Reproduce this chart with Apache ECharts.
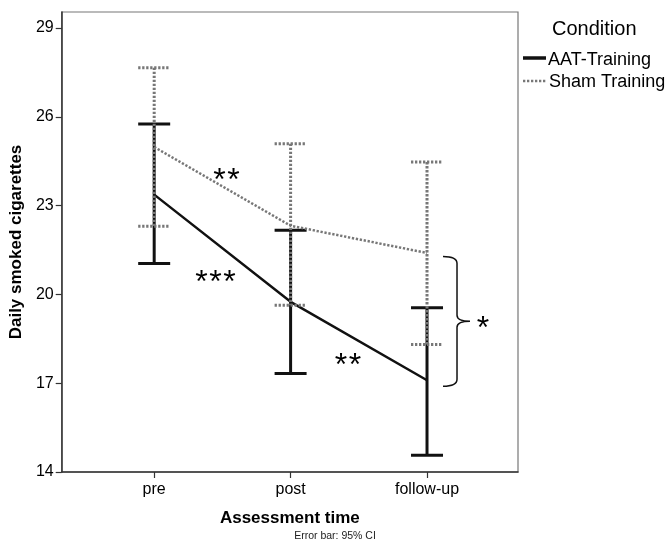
<!DOCTYPE html>
<html>
<head>
<meta charset="utf-8">
<script src="https://cdn.jsdelivr.net/npm/echarts@6/dist/echarts.min.js"></script>
<style>
html, body { margin: 0; padding: 0; background: #fff; }
#chart { width: 670px; height: 545px; }
</style>
</head>
<body>
<div id="chart"></div>
<script>
// assessment times
var times = ['pre', 'post', 'follow-up'];
var yTicks = [14, 17, 20, 23, 26, 29];

// means and 95% CI per condition
var aatMean = [23.37, 19.75, 17.10];
var aatLow = [21.04, 17.33, 14.57];
var aatHigh = [25.76, 22.17, 19.55];

var shamMean = [24.98, 22.32, 21.40];
var shamLow = [22.30, 19.63, 18.31];
var shamHigh = [27.66, 25.09, 24.47];

// significance marks: [x, y, number of stars]
var stars = [
    [0.53, 24.08, 2],
    [0.45, 20.66, 3],
    [1.42, 17.84, 2]
];
// brace between the follow-up means
var brace = [[2, 21.28, 16.90]];

var FONT = '"Liberation Sans", Arial, sans-serif';
var AAT_COLOR = '#111';
var SHAM_COLOR = '#777';

function pts(arr) {
    return arr.map(function (v, i) { return [i, v]; });
}
function bars(lo, hi) {
    return lo.map(function (v, i) { return [i, v, hi[i]]; });
}

function errorBar(color, dash) {
    return function (params, api) {
        var x = api.value(0);
        var lo = api.coord([x, api.value(1)]);
        var hi = api.coord([x, api.value(2)]);
        var hw = 16;
        var st = { stroke: color, lineWidth: 3, lineDash: dash };
        return {
            type: 'group',
            children: [
                { type: 'line', shape: { x1: hi[0], y1: hi[1], x2: lo[0], y2: lo[1] }, style: st },
                { type: 'line', shape: { x1: hi[0] - hw, y1: hi[1], x2: hi[0] + hw, y2: hi[1] }, style: st },
                { type: 'line', shape: { x1: lo[0] - hw, y1: lo[1], x2: lo[0] + hw, y2: lo[1] }, style: st }
            ]
        };
    };
}

var chart = echarts.init(document.getElementById('chart'));

var option = {
    animation: false,
    backgroundColor: '#fff',
    grid: {
        left: 59, right: 152, top: 12, bottom: 73,
        show: true, borderColor: '#777', borderWidth: 1.2
    },
    xAxis: {
        type: 'value',
        min: -0.678,
        max: 2.667,
        name: 'Assessment time',
        nameLocation: 'middle',
        nameGap: 38,
        nameTextStyle: { fontFamily: FONT, fontSize: 17, fontWeight: 'bold', color: '#000' },
        axisLine: { onZero: false, lineStyle: { color: '#333', width: 1.5 } },
        axisTick: { customValues: [0, 1, 2], length: 6, lineStyle: { color: '#333', width: 1.2 } },
        axisLabel: {
            customValues: [0, 1, 2],
            margin: 10,
            fontFamily: FONT, fontSize: 16, color: '#000',
            formatter: function (v) { return times[Math.round(v)]; }
        },
        splitLine: { show: false }
    },
    yAxis: {
        type: 'value',
        min: 14,
        max: 29.54,
        name: 'Daily smoked cigarettes',
        nameLocation: 'middle',
        nameGap: 34,
        nameTextStyle: { fontFamily: FONT, fontSize: 17, fontWeight: 'bold', color: '#000' },
        axisLine: { show: true, onZero: false, lineStyle: { color: '#333', width: 1.5 } },
        axisTick: { show: true, customValues: yTicks, length: 6, lineStyle: { color: '#333', width: 1.2 } },
        axisLabel: {
            customValues: yTicks,
            margin: 8,
            fontFamily: FONT, fontSize: 16, color: '#000'
        },
        splitLine: { show: false }
    },
    series: [
        {
            name: 'AAT-Training CI',
            type: 'custom',
            renderItem: errorBar(AAT_COLOR, null),
            data: bars(aatLow, aatHigh),
            z: 2
        },
        {
            name: 'AAT-Training',
            type: 'line',
            data: pts(aatMean),
            symbol: 'none',
            lineStyle: { color: AAT_COLOR, width: 2.5 },
            z: 3
        },
        {
            name: 'Sham Training CI',
            type: 'custom',
            renderItem: errorBar(SHAM_COLOR, [2.3, 1.7]),
            data: bars(shamLow, shamHigh),
            z: 4
        },
        {
            name: 'Sham Training',
            type: 'line',
            data: pts(shamMean),
            symbol: 'none',
            lineStyle: { color: SHAM_COLOR, width: 2.5, type: [2.3, 1.7] },
            z: 5
        },
        {
            name: 'brace',
            type: 'custom',
            renderItem: function (params, api) {
                var top = api.coord([api.value(0), api.value(1)]);
                var bot = api.coord([api.value(0), api.value(2)]);
                var x0 = top[0] + 16, x1 = top[0] + 30, x2 = top[0] + 43;
                var t = top[1], b = bot[1], m = (t + b) / 2;
                var d = 'M' + x0 + ' ' + t + ' Q' + x1 + ' ' + t + ' ' + x1 + ' ' + (t + 7) +
                    ' L' + x1 + ' ' + (m - 6) + ' Q' + x1 + ' ' + m + ' ' + x2 + ' ' + m +
                    ' Q' + x1 + ' ' + m + ' ' + x1 + ' ' + (m + 6) +
                    ' L' + x1 + ' ' + (b - 7) + ' Q' + x1 + ' ' + b + ' ' + x0 + ' ' + b;
                return {
                    type: 'group',
                    children: [
                        { type: 'path', shape: { pathData: d }, style: { stroke: '#111', lineWidth: 1.5, fill: null } },
                        { type: 'text', x: x2 + 13, y: m + 8, style: { text: '*', font: '32px ' + FONT, fill: '#000', align: 'center', verticalAlign: 'middle' } }
                    ]
                };
            },
            data: brace,
            z: 6
        },
        {
            name: 'stars',
            type: 'custom',
            renderItem: function (params, api) {
                var p = api.coord([api.value(0), api.value(1)]);
                var n = api.value(2);
                var kids = [];
                for (var k = 0; k < n; k++) {
                    kids.push({
                        type: 'text',
                        x: p[0] + (k - (n - 1) / 2) * 14,
                        y: p[1] + 8,
                        style: { text: '*', font: '32px ' + FONT, fill: '#000', align: 'center', verticalAlign: 'middle' }
                    });
                }
                return { type: 'group', children: kids };
            },
            data: stars,
            z: 6
        }
    ],
    graphic: [
        { type: 'text', left: 552, top: 19, style: { text: 'Condition', font: '20px ' + FONT, fill: '#000' } },
        { type: 'line', shape: { x1: 523, y1: 58, x2: 546, y2: 58 }, style: { stroke: AAT_COLOR, lineWidth: 3.5 } },
        { type: 'text', left: 548, top: 51, style: { text: 'AAT-Training', font: '18px ' + FONT, fill: '#000' } },
        { type: 'line', shape: { x1: 523, y1: 81, x2: 546, y2: 81 }, style: { stroke: SHAM_COLOR, lineWidth: 2.5, lineDash: [2.3, 1.7] } },
        { type: 'text', left: 549, top: 73, style: { text: 'Sham Training', font: '18px ' + FONT, fill: '#000' } },
        { type: 'text', left: 'center', top: 531, style: { text: 'Error bar: 95% CI', font: '10.5px ' + FONT, fill: '#222', align: 'center' } }
    ]
};

chart.setOption(option);
</script>
</body>
</html>
